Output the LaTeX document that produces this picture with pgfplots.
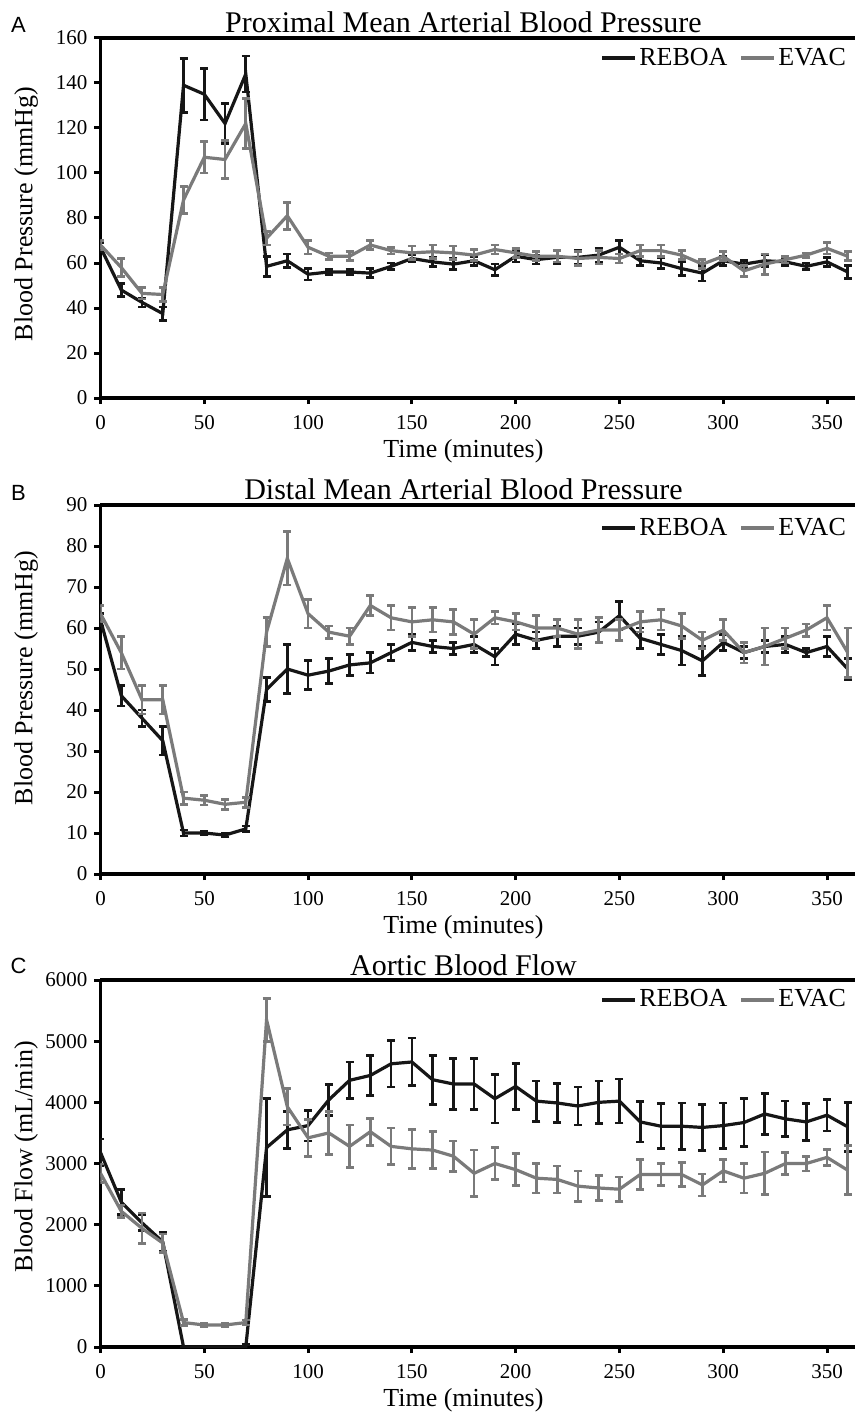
\documentclass[border=0pt]{standalone}
\usepackage{fontspec}
\setmainfont{Liberation Serif}
\newfontfamily\panelfont{Liberation Sans}
\usepackage{pgfplots}
\usepackage{pgfplotstable}
\pgfplotsset{compat=1.18}

\definecolor{reboa}{RGB}{22,22,22}
\definecolor{evac}{RGB}{122,122,122}

% t = minutes, v = mean, e = error
\pgfplotstableread{
t v e
0 67 2
10 48 3
20 42.5 2
30 37.5 3
40 139 12
50 135 11.5
60 122 9
70 144 8
80 58.5 4.5
90 61 3
100 55 2.5
110 56 1
120 56 1
130 55.5 2
140 58.5 1.5
150 62 1.5
160 60.5 2
170 59.5 2.5
180 61 2
190 57 2.5
200 63 2.5
210 61.5 2
220 62.5 3
230 62.5 3
240 63.5 3
250 67 3
260 61 2
270 60 2.5
280 57.5 3
290 55.5 3.5
300 61 2
310 59.5 1.5
320 61 2.5
330 60.5 1.5
340 58.5 1.5
350 60.5 2
360 56 3
}\proxReboa

\pgfplotstableread{
t v e
0 68 2
10 58 4
20 46.5 2.5
30 46 3
40 88 6
50 107 7
60 106 8.5
70 122 11
80 71 3
90 81 6
100 67 3
110 63 1.5
120 63 2
130 68 2
140 65.5 1.5
150 64.5 3
160 65 3
170 64.5 3
180 63.5 2.5
190 66 2
200 64.5 2
210 63 2
220 63 2.5
230 62 3
240 62.5 3
250 62 2
260 65.5 2.5
270 65.5 2.5
280 63.5 2
290 59.5 2
300 63 2
310 56.5 2.5
320 59.5 4.5
330 61.5 1.5
340 63.5 1
350 66.5 2.5
360 63 2
}\proxEvac

\pgfplotstableread{
t v e
0 62 1.5
10 43.5 2.5
20 38 2
30 32.5 3.5
40 10 0.7
50 10 0.5
60 9.5 0.5
70 11 0.7
80 45 3
90 50 6
100 48.5 3.5
110 49.5 3
120 51 2.5
130 51.5 2.5
140 54 2
150 56.5 2
160 55.5 1.5
170 55 1.5
180 56 2
190 53 2
200 58.5 2.5
210 57 2
220 58 2.5
230 58 2
240 59 2.5
250 63 3.5
260 57.5 2.5
270 56 2.5
280 54.5 3.5
290 52 3.5
300 56.5 2
310 54 1.5
320 55.5 1.5
330 56 2
340 54 1
350 55.5 2.5
360 50 2.5
}\distReboa

\pgfplotstableread{
t v e
0 63.5 2
10 54 4
20 42.5 3.5
30 42.5 3.5
40 18.5 1.5
50 18 1.2
60 17 1.2
70 17.5 1.2
80 59 3.5
90 77 6.5
100 63.5 3.5
110 59 1.5
120 58 2
130 65.5 2.5
140 62.5 3
150 61.5 3.5
160 62 3
170 61.5 3
180 58.5 3.5
190 62.5 1.5
200 61.5 2
210 60 3
220 60 2
230 58.5 3.5
240 59.5 3
250 59.5 2.5
260 61.5 2.5
270 62 2.5
280 60.5 3
290 57 2
300 59.5 2.5
310 54 2.5
320 55.5 4.5
330 57.5 2.5
340 59.5 1.5
350 62.5 3
360 54 6
}\distEvac

\pgfplotstableread{
t v e
0 3180 220
10 2370 200
20 2030 130
30 1720 150
40 0 0
50 0 0
60 0 0
70 0 40
80 3260 800
90 3550 300
100 3620 250
110 4040 250
120 4360 300
130 4440 330
140 4630 380
150 4660 390
160 4370 400
170 4300 420
180 4300 420
190 4060 400
200 4260 380
210 4020 330
220 3990 320
230 3940 310
240 4000 350
250 4020 360
260 3680 330
270 3610 370
280 3610 380
290 3590 380
300 3620 370
310 3670 390
320 3810 340
330 3730 290
340 3680 300
350 3790 260
360 3600 400
}\flowReboa

\pgfplotstableread{
t v e
0 2840 150
10 2220 100
20 1940 250
30 1700 150
40 400 50
50 360 30
60 360 30
70 400 40
80 5350 350
90 3930 300
100 3420 300
110 3500 350
120 3280 350
130 3520 220
140 3280 300
150 3240 320
160 3220 300
170 3120 250
180 2840 380
190 3000 260
200 2900 260
210 2760 240
220 2740 220
230 2630 250
240 2600 200
250 2580 200
260 2820 250
270 2820 180
280 2820 200
290 2650 180
300 2880 180
310 2760 240
320 2840 350
330 3000 180
340 3000 120
350 3100 130
360 2890 400
}\flowEvac

\pgfplotsset{
  panel/.style={
    scale only axis, width=377.25pt,
    xmin=0, xmax=363.5,
    axis x line*=box, axis y line*=left,
    every non boxed y axis/.append style={y axis line style={-}},
    axis line style={line width=1.8pt, -},
    xtick={0,50,...,350}, xtick pos=left, ytick pos=left,
    tick align=outside, major tick length=3pt,
    tick style={line width=1.5pt, black},
    /pgf/number format/assume math mode=true,
    /pgf/number format/1000 sep={},
    scaled y ticks=false,
    tick label style={font=\fontsize{10.5}{12}\selectfont},
    xticklabel style={yshift=-2pt},
    label style={font=\fontsize{13}{15}\selectfont},
    xlabel={Time (minutes)},
    xlabel style={at={(axis description cs:0.481,0)}, anchor=base, yshift=-29.5pt},
    title style={at={(axis description cs:0.481,1)}, anchor=base, yshift=-3.5pt,
      font=\fontsize{15}{18}\selectfont},
    legend style={draw=none, fill=none, anchor=east,
      font=\fontsize{13}{15}\selectfont, inner sep=0pt,
      nodes={inner sep=1pt},
      /tikz/every even column/.append style={column sep=5pt}},
    legend columns=2,
    legend image code/.code={\draw[#1, line width=2pt] (0pt,0pt) -- (16.5pt,0pt);},
    clip mode=individual,
  },
  reb/.style={color=reboa, line width=1.6pt, no marks,
    error bars/.cd, y dir=both, y explicit,
    error bar style={line width=1.35pt},
    error mark options={rotate=90, line width=1.35pt, mark size=2pt}},
  eva/.style={color=evac, line width=1.6pt, no marks,
    error bars/.cd, y dir=both, y explicit,
    error bar style={line width=1.35pt},
    error mark options={rotate=90, line width=1.35pt, mark size=2pt}},
}

\begin{document}
\begin{tikzpicture}

\begin{axis}[panel, at={(50.25pt,-199pt)}, anchor=south west, height=180pt,
  ymin=0, ymax=160, ytick={0,20,...,160},
  title={Proximal Mean Arterial Blood Pressure},
  ylabel={Blood Pressure (mmHg)},
  ylabel style={at={(axis description cs:-0.0902,0.511)}, anchor=base},
  legend style={at={(axis description cs:0.991,0.944)}}]
\addplot[reb] table[x=t, y=v, y error=e] {\proxReboa};
\addplot[eva] table[x=t, y=v, y error=e] {\proxEvac};
\legend{REBOA, EVAC}
\end{axis}

\begin{axis}[panel, at={(50.25pt,-437pt)}, anchor=south west, height=184.5pt,
  ymin=0, ymax=90, ytick={0,10,...,90},
  title={Distal Mean Arterial Blood Pressure},
  title style={yshift=0.5pt},
  ylabel={Blood Pressure (mmHg)},
  ylabel style={at={(axis description cs:-0.0902,0.531)}, anchor=base},
  legend style={at={(axis description cs:0.991,0.938)}}]
\addplot[reb] table[x=t, y=v, y error=e] {\distReboa};
\addplot[eva] table[x=t, y=v, y error=e] {\distEvac};
\legend{REBOA, EVAC}
\end{axis}

\begin{axis}[panel, at={(50.25pt,-673.5pt)}, anchor=south west, height=183.5pt,
  ymin=0, ymax=6000, ytick={0,1000,...,6000},
  title={Aortic Blood Flow},
  ylabel={Blood Flow (mL/min)},
  ylabel style={at={(axis description cs:-0.0902,0.519)}, anchor=base},
  legend style={at={(axis description cs:0.991,0.946)}}]
\addplot[reb] table[x=t, y=v, y error=e] {\flowReboa};
\addplot[eva] table[x=t, y=v, y error=e] {\flowEvac};
\legend{REBOA, EVAC}
\end{axis}

\node[anchor=base, font=\panelfont\fontsize{11}{12}\selectfont] at (9.25pt,-16.5pt) {A};
\node[anchor=base, font=\panelfont\fontsize{11}{12}\selectfont] at (9.25pt,-250pt) {B};
\node[anchor=base, font=\panelfont\fontsize{11}{12}\selectfont] at (9.25pt,-486.5pt) {C};

\pgfresetboundingbox
\path (0pt,0pt) rectangle (427.5pt,-706pt);
\end{tikzpicture}
\end{document}
